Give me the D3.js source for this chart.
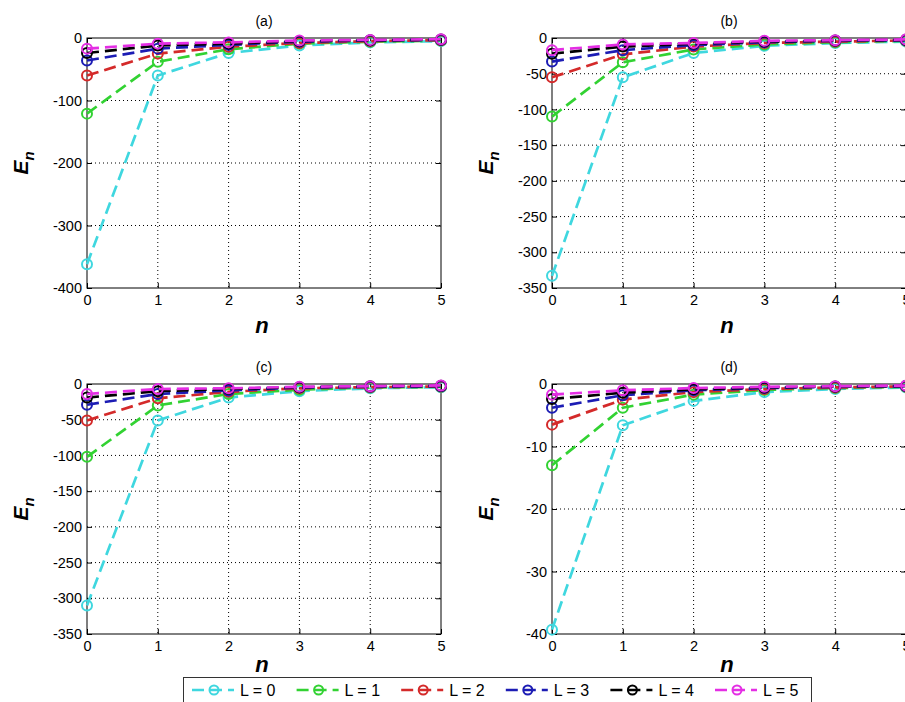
<!DOCTYPE html>
<html>
<head>
<meta charset="utf-8">
<script src="https://cdn.jsdelivr.net/npm/d3@7"></script>
<style>
body { margin: 0; background: #fff; }
text { font-family: "Liberation Sans", Arial, sans-serif; fill: #000; }
</style>
</head>
<body>
<svg id="chart" width="905" height="702"></svg>
<script>
// quantum number n on the x axis
var nValues = [0, 1, 2, 3, 4, 5];
var legendLabels = ["L = 0", "L = 1", "L = 2", "L = 3", "L = 4", "L = 5"];
var lineColors = ["#3fd7df", "#32d232", "#d42a2a", "#1c1cb4", "#000000", "#e42ee4"];

// E_n for each L (rows L = 0..5, columns n = 0..5)
var energyA = [
  [-362, -60, -24, -12, -7, -5],
  [-121, -38, -18, -9, -6, -4],
  [-60, -25, -14, -8, -5, -3.5],
  [-36, -17, -11, -6, -4, -3],
  [-24, -12, -9, -5, -3.5, -2.5],
  [-17, -9, -7, -4, -3, -2]
];
var energyB = [
  [-333, -55, -21, -11, -7, -5],
  [-110, -34, -16, -9, -6, -4],
  [-55, -23, -12, -7, -5, -3.5],
  [-33, -17, -10, -6, -4, -3],
  [-22, -12, -8, -5, -3.5, -2.5],
  [-17, -9, -7, -4, -3, -2]
];
var energyC = [
  [-310, -51, -19, -10, -6, -4.5],
  [-102, -30, -14, -8, -5, -4],
  [-51, -20, -11, -6, -4.5, -3.5],
  [-29, -14, -9, -5, -4, -3],
  [-19, -10, -7, -4.5, -3, -2.5],
  [-14, -7, -6, -4, -3, -2]
];
var energyD = [
  [-39.3, -6.6, -2.7, -1.3, -0.8, -0.55],
  [-13, -3.8, -1.7, -0.95, -0.65, -0.45],
  [-6.5, -2.5, -1.3, -0.8, -0.55, -0.4],
  [-3.8, -1.8, -1.0, -0.65, -0.45, -0.35],
  [-2.4, -1.4, -0.85, -0.55, -0.4, -0.3],
  [-1.7, -1.0, -0.65, -0.45, -0.35, -0.25]
];

var yTicksA = [0, -100, -200, -300, -400];
var yTicksB = [0, -50, -100, -150, -200, -250, -300, -350];
var yTicksC = [0, -50, -100, -150, -200, -250, -300, -350];
var yTicksD = [0, -10, -20, -30, -40];

var svg = d3.select("#chart");
var plotW = 354, plotH = 250;

var panels = [
  {title: "(a)", data: energyA, ticks: yTicksA, left: 87, top: 38},
  {title: "(b)", data: energyB, ticks: yTicksB, left: 552, top: 38},
  {title: "(c)", data: energyC, ticks: yTicksC, left: 87, top: 384},
  {title: "(d)", data: energyD, ticks: yTicksD, left: 552, top: 384}
];

// plain hyphen minus like MATLAB
var fmt = function (d) { return String(d); };

panels.forEach(function (p) {
  var x = d3.scaleLinear().domain([0, 5]).range([p.left, p.left + plotW]);
  var y = d3.scaleLinear().domain([d3.min(p.ticks), 0]).range([p.top + plotH, p.top]);
  var g = svg.append("g");

  // dotted grid
  g.selectAll(".gx").data(nValues.slice(1, -1)).enter().append("line")
    .attr("x1", function (d) { return x(d); }).attr("x2", function (d) { return x(d); })
    .attr("y1", p.top).attr("y2", p.top + plotH)
    .attr("stroke", "#000").attr("stroke-width", 1).attr("stroke-dasharray", "1,3");
  g.selectAll(".gy").data(p.ticks.slice(1, -1)).enter().append("line")
    .attr("x1", p.left).attr("x2", p.left + plotW)
    .attr("y1", function (d) { return y(d); }).attr("y2", function (d) { return y(d); })
    .attr("stroke", "#000").attr("stroke-width", 1).attr("stroke-dasharray", "1,3");

  // axes, MATLAB style inward ticks
  var ax = [
    g.append("g").attr("transform", "translate(0," + (p.top + plotH) + ")")
      .call(d3.axisBottom(x).tickValues(nValues).tickFormat(fmt).tickSize(-5).tickPadding(7)),
    g.append("g").attr("transform", "translate(" + p.left + ",0)")
      .call(d3.axisLeft(y).tickValues(p.ticks).tickFormat(fmt).tickSize(-5).tickPadding(5)),
    g.append("g").attr("transform", "translate(0," + p.top + ")")
      .call(d3.axisTop(x).tickValues(nValues).tickSize(-5).tickFormat("")),
    g.append("g").attr("transform", "translate(" + (p.left + plotW) + ",0)")
      .call(d3.axisRight(y).tickValues(p.ticks).tickSize(-5).tickFormat(""))
  ];
  ax.forEach(function (a) {
    a.select(".domain").remove();
    a.selectAll("text").style("font-size", "14.5px").style("font-family", "Liberation Sans, Arial, sans-serif");
  });
  g.append("rect").attr("x", p.left).attr("y", p.top).attr("width", plotW).attr("height", plotH)
    .attr("fill", "none").attr("stroke", "#000").attr("stroke-width", 1);

  // series
  var line = d3.line()
    .x(function (d, i) { return x(nValues[i]); })
    .y(function (d) { return y(d); });
  p.data.forEach(function (series, k) {
    g.append("path").datum(series).attr("d", line)
      .attr("fill", "none").attr("stroke", lineColors[k])
      .attr("stroke-width", 2.7).attr("stroke-dasharray", "12,6");
    g.selectAll(".m" + k).data(series).enter().append("circle")
      .attr("cx", function (d, i) { return x(nValues[i]); })
      .attr("cy", function (d) { return y(d); })
      .attr("r", 5).attr("fill", "none")
      .attr("stroke", lineColors[k]).attr("stroke-width", 2);
  });

  // titles and labels
  g.append("text").attr("x", p.left + plotW / 2).attr("y", p.top - 12)
    .attr("text-anchor", "middle").style("font-size", "14px").text(p.title);
  g.append("text").attr("x", p.left + plotW / 2 - 2).attr("y", p.top + plotH + (p.top > 300 ? 38 : 45))
    .attr("text-anchor", "middle").style("font-size", "22px")
    .style("font-weight", "bold").style("font-style", "italic").text("n");
  var yl = g.append("text")
    .attr("transform", "translate(" + (p.left - 59) + "," + (p.top + plotH / 2) + ") rotate(-90)")
    .attr("text-anchor", "middle").style("font-size", "21px")
    .style("font-weight", "bold").style("font-style", "italic");
  yl.append("tspan").text("E");
  yl.append("tspan").attr("dy", 6).style("font-size", "15px").text("n");
});

// legend
var legend = svg.append("g");
legend.append("rect").attr("x", 183.5).attr("y", 677.5).attr("width", 628).attr("height", 30)
  .attr("fill", "#fff").attr("stroke", "#333").attr("stroke-width", 1);
legendLabels.forEach(function (lab, k) {
  var lx = 192 + k * 104.6;
  legend.append("line").attr("x1", lx).attr("x2", lx + 42).attr("y1", 690).attr("y2", 690)
    .attr("stroke", lineColors[k]).attr("stroke-width", 2.5).attr("stroke-dasharray", "12,6");
  legend.append("circle").attr("cx", lx + 22).attr("cy", 690).attr("r", 4.5)
    .attr("fill", "none").attr("stroke", lineColors[k]).attr("stroke-width", 2);
  legend.append("text").attr("x", lx + 48).attr("y", 690).attr("dy", "0.36em")
    .style("font-size", "16px").text(lab);
});
</script>
</body>
</html>
